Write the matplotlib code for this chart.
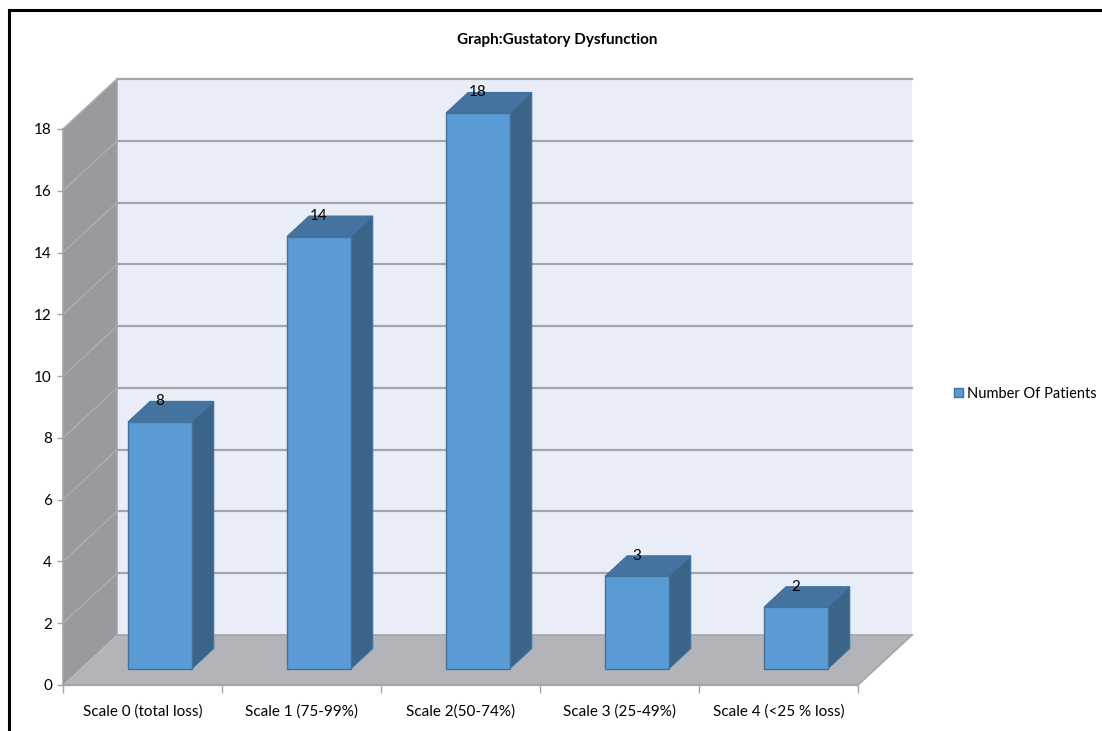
import matplotlib
matplotlib.use("Agg")
import matplotlib.pyplot as plt
from matplotlib.patches import Polygon, Patch
from matplotlib.lines import Line2D
import numpy as np

plt.rcParams['font.family'] = ['Lato', 'DejaVu Sans']

categories = ["Scale 0 (total loss)", "Scale 1 (75-99%)", "Scale 2(50-74%)",
              "Scale 3 (25-49%)", "Scale 4 (<25 % loss)"]
patients = [8, 14, 18, 3, 2]
y_ticks = [0, 2, 4, 6, 8, 10, 12, 14, 16, 18]
series_name = "Number Of Patients"
title = "Graph:Gustatory Dysfunction"

W, H = 1102, 731
fig = plt.figure(figsize=(W / 100, H / 100), dpi=100)
fig.patch.set_facecolor("white")

# front plane of the plot box in pixels
x0_px, x1_px = 63, 858
y0_px, y1_px = 685, 129
ax = fig.add_axes([x0_px / W, (H - y0_px) / H, (x1_px - x0_px) / W, (y0_px - y1_px) / H])
n = len(categories)
ymax = y_ticks[-1]
ax.set_xlim(0, n)
ax.set_ylim(0, ymax)
ax.patch.set_alpha(0)

# depth of the 3d box in data units
DX = 54 / ((x1_px - x0_px) / n)
DY = 50 / ((y0_px - y1_px) / ymax)

grid_c = "#a3a5a8"
wall_c = "#e9edf8"
side_c = "#989a9f"
floor_c = "#b2b4ba"

# back wall
ax.add_patch(Polygon([(DX, DY), (n + DX, DY), (n + DX, ymax + DY), (DX, ymax + DY)],
                     closed=True, fc=wall_c, ec="none", zorder=1, clip_on=False))
for v in y_ticks[1:]:
    ax.plot([DX, n + DX], [v + DY, v + DY], color=grid_c, lw=1.6, zorder=2, clip_on=False)
ax.plot([DX, DX], [DY, ymax + DY], color=grid_c, lw=1.2, zorder=2, clip_on=False)

# left side wall
ax.add_patch(Polygon([(0, 0), (DX, DY), (DX, ymax + DY), (0, ymax)],
                     closed=True, fc=side_c, ec="none", zorder=1, clip_on=False))
for v in y_ticks[1:]:
    ax.plot([0, DX], [v, v + DY], color="#a9abaf", lw=1.2, zorder=2, clip_on=False)

# floor
ax.add_patch(Polygon([(0, 0), (n, 0), (n + DX, DY), (DX, DY)],
                     closed=True, fc=floor_c, ec="none", zorder=3, clip_on=False))
ax.plot([DX, n + DX], [DY, DY], color=grid_c, lw=1.2, zorder=3, clip_on=False)
ax.plot([n, n + DX], [0, DY], color=grid_c, lw=1.2, zorder=3, clip_on=False)

# bars
width = 0.4
d_front, d_depth = 0.32, 0.41
ox, oy = d_front * DX, d_front * DY
bdx, bdy = d_depth * DX, d_depth * DY
xc = np.arange(n) + 0.5 + ox
front_c, side_bar_c, top_c, edge_c = "#5b9bd5", "#3a6488", "#44739f", "#41719c"

for i, v in enumerate(patients):
    xl, xr = xc[i] - width / 2, xc[i] + width / 2
    ax.add_patch(Polygon([(xr, oy), (xr + bdx, oy + bdy), (xr + bdx, oy + v + bdy), (xr, oy + v)],
                         closed=True, fc=side_bar_c, ec=edge_c, lw=0.8, zorder=4, clip_on=False))
    ax.add_patch(Polygon([(xl, oy + v), (xr, oy + v), (xr + bdx, oy + v + bdy), (xl + bdx, oy + v + bdy)],
                         closed=True, fc=top_c, ec=edge_c, lw=0.8, zorder=4, clip_on=False))
    ax.text(xc[i], oy + v + bdy, str(v), ha="center", va="center", fontsize=11, zorder=6)

bars = ax.bar(xc, patients, width=width, bottom=oy, color=front_c, edgecolor=edge_c, lw=1, zorder=5)
for b in bars:
    b.set_clip_on(False)

# axes
for s in ["top", "right"]:
    ax.spines[s].set_visible(False)
ax.spines["left"].set_color(grid_c)
ax.spines["bottom"].set_color(grid_c)
ax.spines["left"].set_linewidth(1.2)
ax.spines["bottom"].set_linewidth(1.6)
ax.spines["left"].set_zorder(7)
ax.spines["bottom"].set_zorder(7)
ax.set_yticks(y_ticks)
ax.set_xticks(np.arange(n + 1))
ax.set_xticklabels([])
ax.set_xticks(np.arange(n) + 0.5, minor=True)
ax.set_xticklabels(categories, minor=True, fontsize=11)
ax.tick_params(axis="x", which="major", length=6, color=grid_c, width=1)
ax.tick_params(axis="x", which="minor", length=0, pad=14)
ax.tick_params(axis="y", length=4, color=grid_c, width=1, labelsize=11, pad=4)

fig.text(557 / W, 1 - 40 / H, title, ha="center", va="center", fontsize=11, fontweight="bold")

ax.legend(handles=[Patch(fc=front_c, ec=edge_c, label=series_name)], loc="center left",
          bbox_to_anchor=(954 / W, 1 - 394 / H), bbox_transform=fig.transFigure,
          frameon=False, fontsize=10.5, handlelength=0.6, handleheight=0.6, handletextpad=0.3,
          borderpad=0, borderaxespad=0)

# outer frame
fig.add_artist(Line2D([9 / W, 9 / W], [0, 1 - 10 / H], color="black", lw=2.2, transform=fig.transFigure))
fig.add_artist(Line2D([9 / W, 1], [1 - 10 / H, 1 - 10 / H], color="black", lw=2.2, transform=fig.transFigure))

fig.savefig("out.png", dpi=100)
